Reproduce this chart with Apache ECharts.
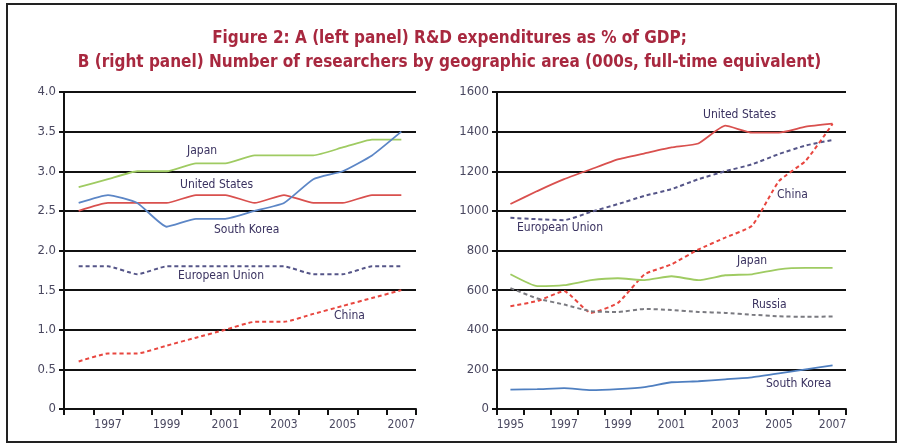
<!DOCTYPE html>
<html>
<head>
<meta charset="utf-8">
<script src="https://cdn.jsdelivr.net/npm/echarts@6/dist/echarts.min.js"></script>
<style>
  html, body { margin: 0; padding: 0; background: #fff; }
  #chart { width: 899px; height: 445px; }
</style>
</head>
<body>
<div id="chart"></div>
<script>
// panel A: R&D expenditures as % of GDP
var yearsA = ['1996', '1997', '1998', '1999', '2000', '2001', '2002', '2003', '2004', '2005', '2006', '2007']
var japanA = [2.8, 2.9, 3.0, 3.0, 3.1, 3.1, 3.2, 3.2, 3.2, 3.3, 3.4, 3.4]
var usA = [2.5, 2.6, 2.6, 2.6, 2.7, 2.7, 2.6, 2.7, 2.6, 2.6, 2.7, 2.7]
var koreaA = [2.6, 2.7, 2.6, 2.3, 2.4, 2.4, 2.5, 2.6, 2.9, 3.0, 3.2, 3.5]
var euA = [1.8, 1.8, 1.7, 1.8, 1.8, 1.8, 1.8, 1.8, 1.7, 1.7, 1.8, 1.8]
var chinaA = [0.6, 0.7, 0.7, 0.8, 0.9, 1.0, 1.1, 1.1, 1.2, 1.3, 1.4, 1.5]

// panel B: researchers (000s, FTE)
var yearsB = ['1995', '1996', '1997', '1998', '1999', '2000', '2001', '2002', '2003', '2004', '2005', '2006', '2007']
var usB = [1035, 1100, 1160, 1210, 1260, 1290, 1320, 1340, 1430, 1395, 1395, 1425, 1440]
var euB = [965, 958, 953, 995, 1034, 1076, 1110, 1160, 1200, 1235, 1287, 1330, 1358]
var chinaB = [519, 545, 595, 485, 535, 680, 730, 805, 865, 925, 1150, 1253, 1439]
var japanB = [680, 620, 625, 650, 660, 650, 670, 650, 675, 680, 705, 712, 712]
var russiaB = [610, 558, 527, 493, 490, 505, 500, 490, 485, 476, 468, 465, 467]
var koreaB = [98, 100, 105, 95, 100, 110, 135, 140, 150, 160, 180, 200, 220]

var FONT = '"DejaVu Sans Condensed", "Liberation Sans Narrow", "Open Sans", sans-serif'
var LABEL_COLOR = '#3a3260'
var TICK_COLOR = '#4a4860'

var chart = echarts.init(document.getElementById('chart'))

function xAxisOf(idx, data, showFn) {
  return {
    type: 'category',
    gridIndex: idx,
    data: data,
    boundaryGap: true,
    axisLine: { lineStyle: { color: '#111', width: 2 } },
    axisTick: { show: true, interval: 0, length: 6, lineStyle: { color: '#111', width: 2 } },
    axisLabel: { interval: showFn, color: TICK_COLOR, fontFamily: FONT, fontSize: 12, margin: 10 }
  }
}

function yAxisOf(idx, max, interval, fmt) {
  return {
    type: 'value',
    gridIndex: idx,
    min: 0,
    max: max,
    interval: interval,
    axisLine: { show: true, lineStyle: { color: '#111', width: 2 } },
    axisTick: { show: true, length: 5, lineStyle: { color: '#111', width: 2 } },
    splitLine: { lineStyle: { color: '#111', width: 2 } },
    axisLabel: { color: TICK_COLOR, fontFamily: FONT, fontSize: 13, margin: 8, formatter: fmt }
  }
}

function lineOf(name, xi, data, color, dashed) {
  return {
    name: name,
    type: 'line',
    xAxisIndex: xi,
    yAxisIndex: xi,
    data: data,
    symbol: 'none',
    smooth: 0.15,
    lineStyle: { color: color, width: dashed ? 2 : 1.8, type: dashed ? [4, 3] : 'solid' },
    z: 3
  }
}

function label(text, x, y) {
  return {
    type: 'text',
    left: x,
    top: y,
    style: { text: text, fill: LABEL_COLOR, font: '12px ' + FONT },
    z: 10
  }
}

chart.setOption({
  backgroundColor: '#fff',
  animation: false,
  title: [{
    text: 'Figure 2: A (left panel) R&D expenditures as % of GDP;\nB (right panel) Number of researchers by geographic area (000s, full-time equivalent)',
    left: 'center',
    top: 22,
    textStyle: { color: '#a8283f', fontFamily: FONT, fontSize: 17, fontWeight: 'bold', lineHeight: 24, align: 'center' }
  }],
  grid: [
    { left: 64, top: 92, width: 352, height: 317 },
    { left: 497, top: 92, width: 349, height: 317 }
  ],
  xAxis: [
    xAxisOf(0, yearsA, function (i) { return i % 2 === 1 }),
    xAxisOf(1, yearsB, function (i) { return i % 2 === 0 })
  ],
  yAxis: [
    yAxisOf(0, 4, 0.5, function (v) { return v === 0 ? '0' : v.toFixed(1) }),
    yAxisOf(1, 1600, 200, function (v) { return String(v) })
  ],
  series: [
    lineOf('Japan', 0, japanA, '#9fcb62', false),
    lineOf('United States', 0, usA, '#d9504e', false),
    lineOf('South Korea', 0, koreaA, '#5c86c6', false),
    lineOf('European Union', 0, euA, '#555588', true),
    lineOf('China', 0, chinaA, '#e8463f', true),
    lineOf('United States', 1, usB, '#d9504e', false),
    lineOf('European Union', 1, euB, '#555588', true),
    lineOf('China', 1, chinaB, '#e8463f', true),
    lineOf('Japan', 1, japanB, '#9fcb62', false),
    lineOf('Russia', 1, russiaB, '#7a7a80', true),
    lineOf('South Korea', 1, koreaB, '#4f7fc0', false)
  ],
  graphic: [
    { type: 'rect', shape: { x: 7, y: 4, width: 889, height: 438 }, style: { fill: 'none', stroke: '#222', lineWidth: 2 }, z: 0 },
    label('Japan', 187, 145),
    label('United States', 180, 179),
    label('South Korea', 214, 224),
    label('European Union', 178, 270),
    label('China', 334, 310),
    label('United States', 703, 109),
    label('China', 777, 189),
    label('European Union', 517, 222),
    label('Japan', 737, 255),
    label('Russia', 752, 299),
    label('South Korea', 766, 378)
  ]
})
</script>
</body>
</html>
